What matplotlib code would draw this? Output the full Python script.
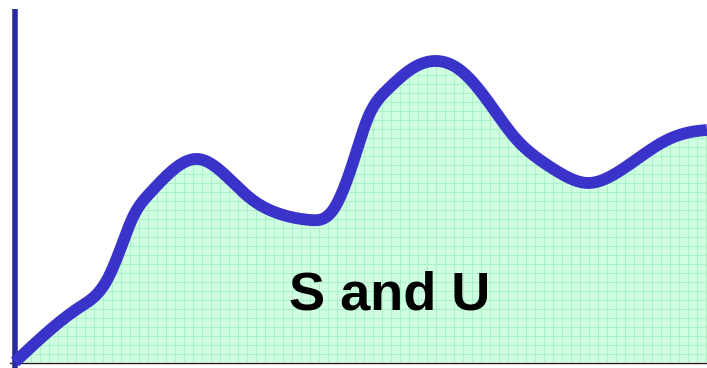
import numpy as np
import matplotlib
matplotlib.use("Agg")
import matplotlib.pyplot as plt
from matplotlib.patches import Polygon

# Curve samples: horizontal position and height above the baseline
xs = [0, 35, 65, 92, 105, 118, 135, 158, 183, 208, 235, 265, 295, 318, 332,
      342, 352, 372, 398, 422, 445, 472, 502, 525, 545, 573, 598, 625, 652, 682, 692]
ys = [0, 32, 55, 82, 112, 145, 169, 192, 203, 189, 164, 148, 142, 152, 182,
      212, 242, 272, 294, 301, 292, 262, 222, 202, 189, 179, 187, 205, 222, 231, 232]
label = "S and U"

FILL = "#cfffe0"
GRID = "#a6f2c6"
CURVE = "#3a33c9"
AXIS = "#2b2a9c"


def natural_spline(x, y, n=1500):
    x = np.asarray(x, float)
    y = np.asarray(y, float)
    k = len(x)
    h = np.diff(x)
    A = np.zeros((k, k))
    b = np.zeros(k)
    A[0, 0] = A[-1, -1] = 1.0
    for i in range(1, k - 1):
        A[i, i - 1] = h[i - 1]
        A[i, i] = 2 * (h[i - 1] + h[i])
        A[i, i + 1] = h[i]
        b[i] = 6 * ((y[i + 1] - y[i]) / h[i] - (y[i] - y[i - 1]) / h[i - 1])
    M = np.linalg.solve(A, b)
    xx = np.linspace(x[0], x[-1], n)
    idx = np.clip(np.searchsorted(x, xx) - 1, 0, k - 2)
    x0, x1 = x[idx], x[idx + 1]
    hh = x1 - x0
    a = (x1 - xx) / hh
    c = (xx - x0) / hh
    yy = (a * y[idx] + c * y[idx + 1]
          + ((a ** 3 - a) * M[idx] + (c ** 3 - c) * M[idx + 1]) * hh ** 2 / 6)
    return xx, yy


cx, cy = natural_spline(xs, ys)

fig = plt.figure(figsize=(7.07, 3.68), dpi=100)
ax = fig.add_axes([0, 0, 1, 1])
ax.set_xlim(-15, 692)
ax.set_ylim(-6, 362)
ax.axis("off")

# filled area under the curve
verts = np.column_stack([np.r_[cx[0], cx, cx[-1]], np.r_[0, cy, 0]])
poly = Polygon(verts, closed=True, facecolor=FILL, edgecolor="none", zorder=1)
ax.add_patch(poly)

# fine grid inside the filled area
step = 9.0
for gx in np.arange(-15 + 4, 700, step):
    ln = ax.plot([gx, gx], [-6, 362], color=GRID, lw=0.7, zorder=2)[0]
    ln.set_clip_path(poly)
for gy in np.arange(-1, 362, step):
    ln = ax.plot([-15, 692], [gy, gy], color=GRID, lw=0.7, zorder=2)[0]
    ln.set_clip_path(poly)

# baseline and vertical axis
ax.plot([-5, 692], [-0.5, -0.5], color="#222222", lw=1.0, zorder=3)
ax.plot([0, 0], [-6, 353], color=AXIS, lw=4.0, solid_capstyle="butt", zorder=4)

# the curve
ax.plot(cx, cy, color=CURVE, lw=8.5, solid_capstyle="butt", solid_joinstyle="round", zorder=5)

ax.text(375, 66, label, fontsize=39, fontweight="bold", family="Liberation Sans",
        ha="center", va="center", color="black", zorder=6)

fig.savefig("out.png", dpi=100)
